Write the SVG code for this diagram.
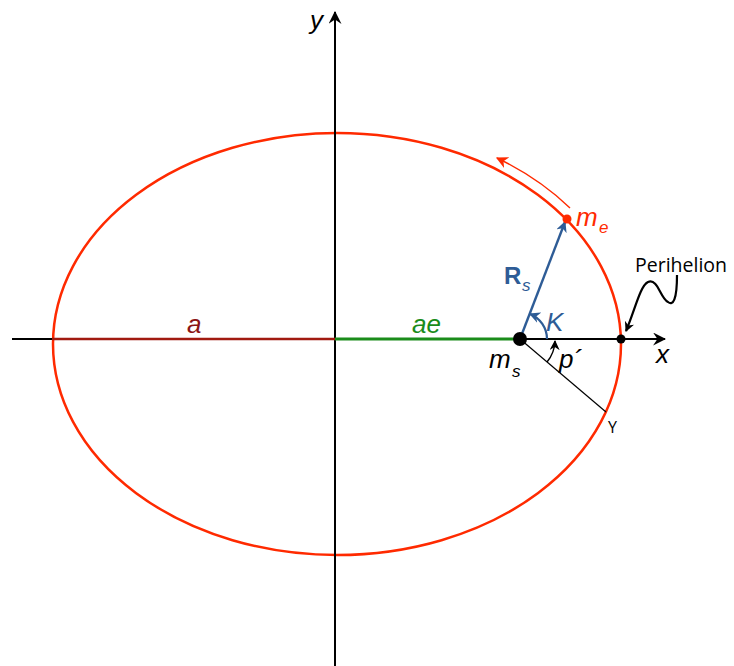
<svg xmlns="http://www.w3.org/2000/svg" width="734" height="666" viewBox="0 0 734 666">
<style>
.lbl{font-family:"Liberation Sans",Arial,sans-serif;font-style:italic;font-size:26px}
.sub{font-family:"Liberation Sans",Arial,sans-serif;font-style:italic;font-size:17px}
.ax{stroke:#000;stroke-width:2;fill:none}
</style>
<defs>
<marker id="ah" viewBox="0 0 12 12" refX="11" refY="6" markerWidth="13" markerHeight="13" markerUnits="userSpaceOnUse" orient="auto">
<path d="M0,0 L12,6 L0,12 L4,6 Z" fill="#000"/>
</marker>
<marker id="ahb" viewBox="0 0 10 10" refX="9" refY="5" markerWidth="11" markerHeight="11" markerUnits="userSpaceOnUse" orient="auto">
<path d="M0,0 L10,5 L0,10 L3,5 Z" fill="#2e5c96"/>
</marker>
<marker id="ahk" viewBox="0 0 10 10" refX="9" refY="5" markerWidth="10" markerHeight="10" markerUnits="userSpaceOnUse" orient="auto">
<path d="M0,0 L10,5 L0,10 L3,5 Z" fill="#000"/>
</marker>
<marker id="ahr" viewBox="0 0 10 10" refX="9" refY="5" markerWidth="12" markerHeight="12" markerUnits="userSpaceOnUse" orient="auto">
<path d="M0,0 L10,5 L0,10 L3,5 Z" fill="#ff2a00"/>
</marker>
</defs>
<g id="orbit">
<ellipse cx="337" cy="344" rx="284" ry="211" fill="none" stroke="#ff2a00" stroke-width="2.5"/>
</g>
<g id="connectors">
<line class="ax" x1="12" y1="339" x2="665" y2="339" marker-end="url(#ah)"/>
<line class="ax" x1="335" y1="666" x2="335" y2="12" marker-end="url(#ah)"/>
<line x1="52" y1="339" x2="335" y2="339" stroke="#a11a10" stroke-width="2.5"/>
<line x1="335" y1="339" x2="520" y2="339" stroke="#1a8c1a" stroke-width="3"/>
<line x1="520" y1="339" x2="606" y2="412" stroke="#000" stroke-width="1.2"/>
<line x1="520" y1="339" x2="565" y2="222" stroke="#2e5c96" stroke-width="2.4" marker-end="url(#ahb)"/>
<path d="M547,339 A27,27 0 0 0 530,314" fill="none" stroke="#2e5c96" stroke-width="2.2" marker-end="url(#ahb)"/>
<path d="M547,362 A35,35 0 0 0 555,341" fill="none" stroke="#000" stroke-width="1.4" marker-end="url(#ahk)"/>
<path d="M570,208 A295,221 0 0 0 497,158" fill="none" stroke="#ff2a00" stroke-width="1.4" marker-end="url(#ahr)"/>
<path d="M677,275 C677,300 673,306 668,302 C660,298 658,278 648,282 C640,286 635,310 626,331" fill="none" stroke="#000" stroke-width="2.2" marker-end="url(#ahk)"/>
</g>
<g id="axis-labels">
<text class="lbl" x="310" y="29">y</text>
<text class="lbl" x="656" y="363">x</text>
</g>
<g id="a-label"><text class="lbl" x="187" y="333" fill="#8b1414">a</text></g>
<g id="ae-label"><text class="lbl" x="412" y="333" fill="#1a8c1a">ae</text></g>
<g id="ms">
<circle cx="520" cy="339" r="7" fill="#000"/>
<text class="lbl" x="489" y="368">m</text><text class="sub" x="512" y="377">s</text>
</g>
<g id="me">
<circle cx="567" cy="219" r="4.5" fill="#ff2a00"/>
<text class="lbl" x="576" y="226" fill="#ff2a00">m</text><text class="sub" x="599" y="233" fill="#ff2a00">e</text>
</g>
<g id="Rs">
<text x="504" y="284" font-family="Liberation Sans,Arial,sans-serif" font-weight="bold" font-size="24" fill="#2e5c96">R</text><text class="sub" x="522" y="291" fill="#2e5c96">s</text>
</g>
<g id="K"><text class="lbl" x="546" y="331" fill="#2e5c96">K</text></g>
<g id="p"><text class="lbl" x="559" y="368">p´</text></g>
<g id="Y"><text x="608" y="433" font-family="Open Sans,Noto Sans,sans-serif" font-size="16">Y</text></g>
<g id="perihelion">
<circle cx="621" cy="339" r="4.5" fill="#000"/>
<text x="635" y="272" font-family="Open Sans,Noto Sans,sans-serif" font-size="19.5">Perihelion</text>
</g>
</svg>
